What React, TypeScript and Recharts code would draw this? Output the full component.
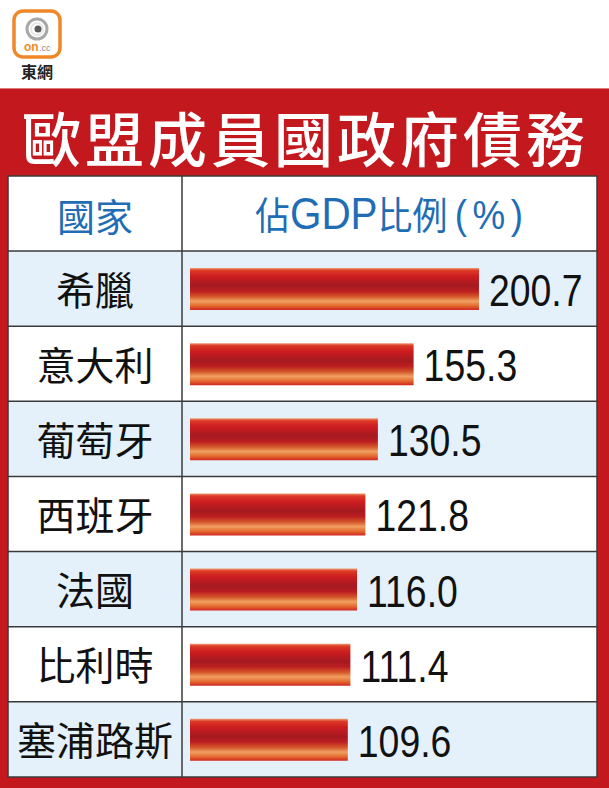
import React from 'react';
import { BarChart, Bar, XAxis, YAxis, LabelList } from 'recharts';

const countries = ['希臘', '意大利', '葡萄牙', '西班牙', '法國', '比利時', '塞浦路斯'];
const debtRatios = [200.7, 155.3, 130.5, 121.8, 116.0, 111.4, 109.6];
const valueLabels = ['200.7', '155.3', '130.5', '121.8', '116.0', '111.4', '109.6'];
const titleText = '歐盟成員國政府債務';
const headerCountry = '國家';
const headerValueParts = ['佔', 'GDP', '比例', '(', '%', ')'];

const data = countries.map((c, i) => ({ country: c, value: debtRatios[i], label: valueLabels[i] }));

const W = 609;
const H = 788;
const TABLE_L = 8;
const TABLE_R = 597;
const COL = 182;
const HEAD_T = 176;
const ROWS_T = 251;
const TABLE_B = 777;
const ROW_H = (TABLE_B - ROWS_T) / countries.length;
const CJK = '"Noto Sans CJK TC", "Noto Sans CJK SC", sans-serif';
const NUM = '"Liberation Sans", Arial, sans-serif';

const CountryTick = (props: any) => {
  const { y, payload } = props;
  return (
    <text x={95} y={y - 1} textAnchor="middle" dominantBaseline="central" fontFamily={CJK} fontSize={39} fill="#111">
      {payload.value}
    </text>
  );
};

const ValueLabel = (props: any) => {
  const { x, y, width, height, index } = props;
  const tx = x + width + 10;
  const ty = y + height / 2 + 17;
  return (
    <text transform={`translate(${tx},${ty}) scale(0.85,1)`} x={0} y={0} fontFamily={NUM} fontSize={44} fill="#111">
      {valueLabels[index]}
    </text>
  );
};

export default function App() {
  return (
    <div style={{ position: 'absolute', left: 0, top: 0, width: W, height: H, background: '#fff', overflow: 'hidden' }}>
      <svg width={W} height={H} style={{ position: 'absolute', left: 0, top: 0 }}>
        {/* logo */}
        <rect x={14} y={11} width={46} height={46} rx={9} fill="#fff" stroke="#f0882a" strokeWidth={3.5} />
        <circle cx={37} cy={29} r={10} fill="none" stroke="#a8a8a8" strokeWidth={3} />
        <circle cx={37} cy={29} r={6} fill="none" stroke="#e8e8e8" strokeWidth={2} />
        <circle cx={38} cy={29} r={3.5} fill="#5a5a5a" />
        <text x={24} y={51} fontFamily={NUM} fontWeight="bold" fontSize={12} fill="#f0882a">on</text>
        <text x={39} y={51} fontFamily={NUM} fontSize={9} fill="#888">.cc</text>
        <text x={37} y={78} textAnchor="middle" fontFamily={CJK} fontWeight="bold" fontSize={16} fill="#222">東網</text>

        {/* red frame */}
        <rect x={0} y={88} width={W} height={H - 88} fill="#c2181e" />
        <line x1={0} x2={W} y1={88.5} y2={88.5} stroke="#e07a7a" strokeWidth={1} />
        <text x={22} y={136} dominantBaseline="central" fontFamily={CJK} fontWeight={500} fontSize={59} fill="#fff"
          textLength={563} lengthAdjust="spacing">{titleText}</text>

        {/* table */}
        <rect x={TABLE_L} y={HEAD_T} width={TABLE_R - TABLE_L} height={TABLE_B - HEAD_T} fill="#fff" />
        {countries.map((c, i) => (
          <rect key={c} x={TABLE_L} y={ROWS_T + i * ROW_H} width={TABLE_R - TABLE_L} height={ROW_H}
            fill={i % 2 === 0 ? '#e4f1fb' : '#ffffff'} />
        ))}
        {countries.map((c, i) => (
          <line key={'l' + c} x1={TABLE_L} x2={TABLE_R} y1={ROWS_T + i * ROW_H} y2={ROWS_T + i * ROW_H} stroke="#3a3a3a" strokeWidth={1.5} />
        ))}
        <line x1={COL} x2={COL} y1={HEAD_T} y2={TABLE_B} stroke="#3a3a3a" strokeWidth={1.5} />
        <rect x={TABLE_L} y={HEAD_T} width={TABLE_R - TABLE_L} height={TABLE_B - HEAD_T} fill="none" stroke="#3a3a3a" strokeWidth={1.5} />

        <text x={95} y={214} textAnchor="middle" dominantBaseline="central" fontFamily={CJK} fontSize={38} fill="#1f6db5">{headerCountry}</text>
        <text x={255} y={229} fontSize={38} fill="#1f6db5" textLength={268} lengthAdjust="spacingAndGlyphs">
          <tspan fontFamily={CJK}>{headerValueParts[0]}</tspan>
          <tspan fontFamily={NUM} fontSize={44}>{headerValueParts[1]}</tspan>
          <tspan fontFamily={CJK}>{headerValueParts[2]}</tspan>
          <tspan fontFamily={NUM} fontSize={40} dx={8}>{headerValueParts[3]}</tspan>
          <tspan fontFamily={NUM} fontSize={40} dx={6}>{headerValueParts[4]}</tspan>
          <tspan fontFamily={NUM} fontSize={40} dx={6}>{headerValueParts[5]}</tspan>
        </text>
      </svg>

      <div style={{ position: 'absolute', left: 0, top: ROWS_T }}>
        <BarChart width={W} height={TABLE_B - ROWS_T} data={data} layout="vertical"
          margin={{ top: 0, right: 0, bottom: 0, left: 0 }}>
          <defs>
            <linearGradient id="barGrad" x1="0" y1="0" x2="0" y2="1">
              <stop offset="0" stopColor="#ee9c74" />
              <stop offset="0.06" stopColor="#dc3a26" />
              <stop offset="0.2" stopColor="#cc1c20" />
              <stop offset="0.42" stopColor="#a41a20" />
              <stop offset="0.55" stopColor="#bc1e20" />
              <stop offset="0.68" stopColor="#d4562a" />
              <stop offset="0.79" stopColor="#f0a062" />
              <stop offset="0.9" stopColor="#e46a2e" />
              <stop offset="1" stopColor="#d02622" />
            </linearGradient>
          </defs>
          <XAxis type="number" domain={[0, 291]} hide />
          <YAxis type="category" dataKey="country" width={190} axisLine={false} tickLine={false} tick={<CountryTick />} interval={0} />
          <Bar dataKey="value" barSize={42} fill="url(#barGrad)" isAnimationActive={false}>
            <LabelList dataKey="label" content={<ValueLabel />} />
          </Bar>
        </BarChart>
      </div>
    </div>
  );
}
